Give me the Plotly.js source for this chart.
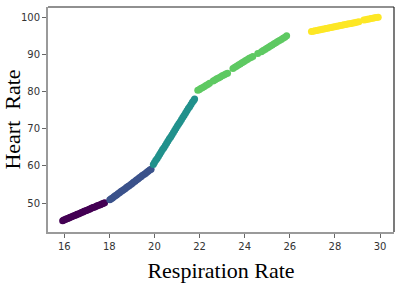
<!DOCTYPE html>
<html>
<head>
<meta charset="utf-8">
<script src="https://cdn.plot.ly/plotly-3.0.1.min.js"></script>
<style>html,body{margin:0;padding:0;background:#fff;}#chart{width:398px;height:285px;}</style>
</head>
<body>
<div id="chart"></div>
<script>
// Respiration rate (x) vs heart rate (y), five groups
const group1X = [15.93,15.98,16.05,16.10,16.16,16.22,16.27,16.33,16.40,16.46,16.52,16.57,16.63,16.70,16.76,16.83,16.88,16.95,17.01,17.08,17.14,17.20,17.27,17.33,17.40,17.46,17.53,17.60,17.66,17.72,17.79];
const group1Y = [45.3,45.45,45.6,45.8,45.9,46.1,46.2,46.35,46.55,46.7,46.8,47.0,47.1,47.3,47.5,47.6,47.8,47.95,48.1,48.3,48.4,48.6,48.8,48.9,49.1,49.3,49.45,49.6,49.8,49.9,50.1];

const group2X = [18.02,18.08,18.14,18.20,18.26,18.32,18.38,18.45,18.51,18.57,18.63,18.70,18.76,18.82,18.88,18.95,19.01,19.07,19.14,19.20,19.27,19.33,19.40,19.46,19.53,19.60,19.66,19.72,19.79,19.85];
const group2Y = [50.9,51.2,51.4,51.7,52.0,52.2,52.5,52.8,53.1,53.3,53.6,53.9,54.2,54.5,54.7,55.0,55.3,55.6,55.9,56.2,56.5,56.8,57.1,57.4,57.7,58.0,58.3,58.6,58.9,59.1];

const group3X = [19.95,20.00,20.06,20.12,20.18,20.24,20.30,20.36,20.42,20.48,20.54,20.60,20.66,20.72,20.78,20.84,20.90,20.96,21.02,21.08,21.14,21.20,21.26,21.32,21.38,21.44,21.50,21.56,21.62,21.68,21.74,21.78];
const group3Y = [60.4,60.9,61.5,62.0,62.6,63.2,63.8,64.4,64.9,65.5,66.1,66.7,67.3,67.8,68.4,69.0,69.6,70.2,70.8,71.3,71.9,72.5,73.1,73.6,74.2,74.8,75.4,75.9,76.5,77.1,77.6,78.0];

const group4X = [21.92,21.98,22.05,22.12,22.20,22.28,22.36,22.44,22.60,22.68,22.76,22.84,22.92,23.00,23.08,23.16,23.24,
                 23.48,23.56,23.64,23.72,23.80,23.88,23.96,24.04,24.12,24.20,24.28,24.36,
                 24.58,
                 24.74,24.82,24.90,24.98,25.06,25.14,25.22,25.30,25.38,25.46,25.54,25.62,25.70,25.78,25.86];
const group4Y = [80.3,80.5,80.8,81.0,81.3,81.6,81.9,82.2,82.8,83.1,83.4,83.6,83.9,84.2,84.4,84.7,84.9,
                 86.2,86.5,86.8,87.1,87.4,87.7,88.0,88.3,88.6,88.9,89.1,89.4,
                 90.2,
                 90.7,91.0,91.3,91.6,91.9,92.2,92.5,92.8,93.1,93.4,93.7,94.0,94.3,94.6,95.0];

const group5X = [26.96,27.04,27.12,27.20,27.28,27.36,27.44,27.52,27.60,27.68,27.76,27.84,27.92,28.00,28.08,28.16,28.24,28.32,28.40,28.48,28.56,28.64,28.72,28.80,28.88,28.96,29.06,
                 29.28,29.36,29.44,29.52,29.60,29.68,29.76,29.84,29.92];
const group5Y = [96.1,96.2,96.3,96.4,96.5,96.6,96.7,96.8,96.9,97.0,97.1,97.2,97.3,97.4,97.5,97.6,97.7,97.8,97.9,98.0,98.1,98.2,98.3,98.4,98.5,98.6,98.75,
                 99.2,99.3,99.4,99.5,99.6,99.7,99.8,99.85,99.95];

const groupColors = ['#440154','#3b528b','#21918c','#5ec962','#fde725'];
const xTicks = [16,18,20,22,24,26,28,30];
const yTicks = [50,60,70,80,90,100];

const groups = [[group1X,group1Y],[group2X,group2Y],[group3X,group3Y],[group4X,group4Y],[group5X,group5Y]];
const traces = groups.map((g,i)=>({
  type:'scatter', mode:'markers', x:g[0], y:g[1],
  marker:{color:groupColors[i], size:7, line:{width:0}},
  hoverinfo:'none', showlegend:false
}));

const tickFont = {family:'DejaVu Sans, sans-serif', size:10, color:'#333'};
const layout = {
  width:398, height:285,
  margin:{l:48, r:4, t:7, b:53},
  paper_bgcolor:'#fff', plot_bgcolor:'#fff',
  xaxis:{
    range:[15.28,30.62], tickvals:xTicks, ticktext:xTicks.map(String),
    showgrid:false, zeroline:false, showline:true, linecolor:'#9a9a9a', linewidth:2,
    ticks:'outside', ticklen:4, tickcolor:'#666', tickwidth:1, tickfont:tickFont,
    title:{text:'Respiration Rate', font:{family:'Liberation Serif, Times New Roman, serif', size:22, color:'#000'}, standoff:12}
  },
  yaxis:{
    range:[42.25,102.7], tickvals:yTicks, ticktext:yTicks.map(String),
    showgrid:false, zeroline:false, showline:true, linecolor:'#9a9a9a', linewidth:2,
    ticks:'outside', ticklen:4, tickcolor:'#666', tickwidth:1, tickfont:tickFont,
    title:{text:'Heart\u00a0\u00a0Rate', font:{family:'Liberation Serif, Times New Roman, serif', size:22, color:'#000'}, standoff:8}
  },
  shapes:[
    {type:'line', xref:'paper', yref:'paper', x0:0, x1:1, y0:1, y1:1, line:{color:'#222', width:1.2}},
    {type:'line', xref:'paper', yref:'paper', x0:1, x1:1, y0:0, y1:1, line:{color:'#222', width:1.2}}
  ]
};
Plotly.newPlot('chart', traces, layout, {staticPlot:true, displayModeBar:false});
</script>
</body>
</html>
